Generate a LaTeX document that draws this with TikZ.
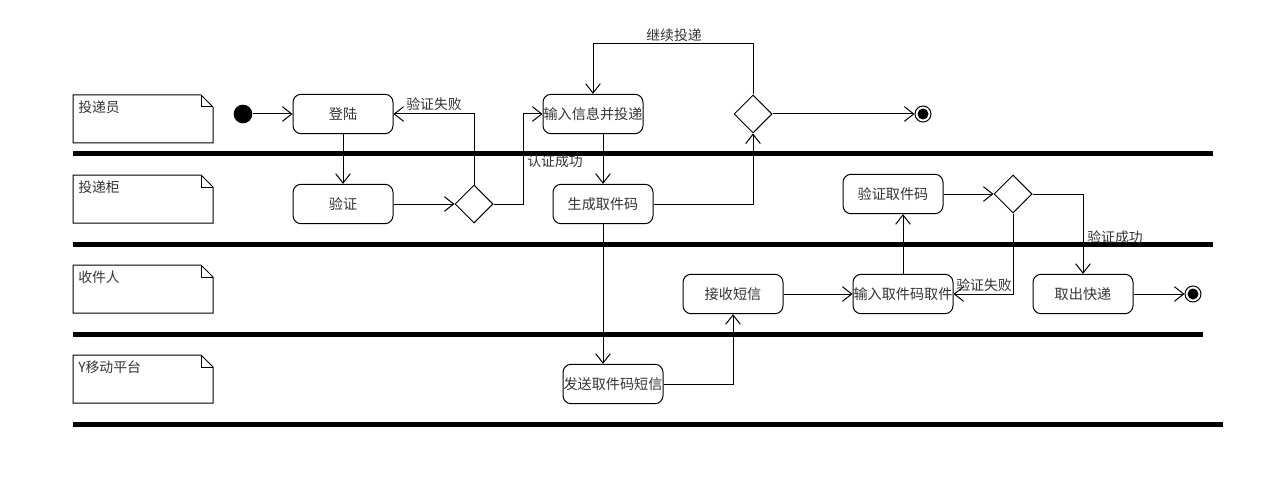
\documentclass[tikz,border=0pt]{standalone}
\usepackage{fontspec}
\setmainfont{Noto Sans CJK SC}
\usetikzlibrary{arrows.meta,shapes.geometric}
\tikzset{
  act/.style={draw, rounded corners=6pt, minimum width=75pt, minimum height=29.5pt, inner sep=0pt, line width=0.75pt, text=black!80, font=\fontsize{10.6pt}{12pt}\selectfont},
  dec/.style={draw, diamond, aspect=1, minimum width=28.5pt, minimum height=28.5pt, inner sep=0pt, line width=0.75pt},
  arr/.style={line width=0.75pt, -{Straight Barb[length=7pt,width=11pt,line width=0.75pt]}},
  con/.style={line width=0.75pt},
  lane/.style={line width=3.75pt},
  lbl/.style={text=black!80, font=\fontsize{10.4pt}{12pt}\selectfont, inner sep=0pt},
  notebox/.style={line width=0.75pt}
}
\begin{document}
\begin{tikzpicture}[x=0.75pt,y=-0.75pt]
\useasboundingbox (0,0) rectangle (1283,492);
% lane separators
\draw[lane] (73,154) -- (1213,154);
\draw[lane] (73,244) -- (1213,244);
\draw[lane] (73,334) -- (1203,334);
\draw[lane] (73,424) -- (1223,424);
% lane notes
\foreach \y/\t/\n in {95/投递员/n1,175/投递柜/n2,265/收件人/n3,355/Y移动平台/n4}{
  \draw[notebox] (73,\y) -- (201,\y) -- (213,\y+12) -- (213,\y+48) -- (73,\y+48) -- cycle;
  \draw[notebox] (201,\y) -- (201,\y+12) -- (213,\y+12);
  \node[lbl, anchor=west] (\n) at (78,\y+12) {\t};
}
% nodes
\node[circle, fill=black, minimum size=14pt, inner sep=0pt] (init) at (243,114) {};
\node[act] (login) at (343,114) {登陆};
\node[act] (verify1) at (343,204) {验证};
\node[dec] (d1) at (474,204) {};
\node[act] (input) at (593,114) {输入信息并投递};
\node[act] (gen) at (603,204) {生成取件码};
\node[dec] (d2) at (753,114) {};
\node[circle, draw, line width=0.75pt, minimum size=12pt, inner sep=0pt] (f1) at (923,114) {};
\fill (f1.center) circle (5.5);
\node[act] (vcode) at (893,194) {验证取件码};
\node[dec] (d3) at (1013,194) {};
\node[act] (recv) at (733,294) {接收短信};
\node[act] (pick) at (903,294) {输入取件码取件};
\node[act] (take) at (1083,294) {取出快递};
\node[circle, draw, line width=0.75pt, minimum size=12pt, inner sep=0pt] (f2) at (1193,294) {};
\fill (f2.center) circle (5.5);
\node[act] (send) at (613,384) {发送取件码短信};
% coordinates
\coordinate (j1) at (523,204);
\coordinate (loop) at (593,44);
% connectors
\draw[arr] (init) -- (login.west);
\draw[arr] (login.south) -- (verify1.north);
\draw[arr] (verify1.east) -- (d1.west);
\draw[arr] (d1.north) |- (login.east);
\draw[arr] (d1.east) -- (j1) |- (input.west);
\draw[arr] (gen.north |- input.south) -- (gen.north);
\draw[arr] (gen.east) -| (d2.south);
\draw[arr] (d2.north) |- (loop) -- (input.north);
\draw[arr] (d2.east) -- (f1.west);
\draw[arr] (gen.south) -- (gen.south |- send.north);
\draw[arr] (send.east) -| (recv.south);
\draw[arr] (recv.east) -- (pick.west);
\draw[arr] (pick.north) -- (pick.north |- vcode.south);
\draw[arr] (vcode.east) -- (d3.west);
\draw[arr] (d3.south) |- (pick.east);
\draw[arr] (d3.east) -| (take.north);
\draw[arr] (take.east) -- (f2.west);
% labels
\node[lbl] (l1) at (434,104) {验证失败};
\node[lbl] (l2) at (555,161) {认证成功};
\node[lbl] (l3) at (674,35) {继续投递};
\node[lbl] (l4) at (984,285) {验证失败};
\node[lbl] (l5) at (1115,237) {验证成功};
\end{tikzpicture}
\end{document}
